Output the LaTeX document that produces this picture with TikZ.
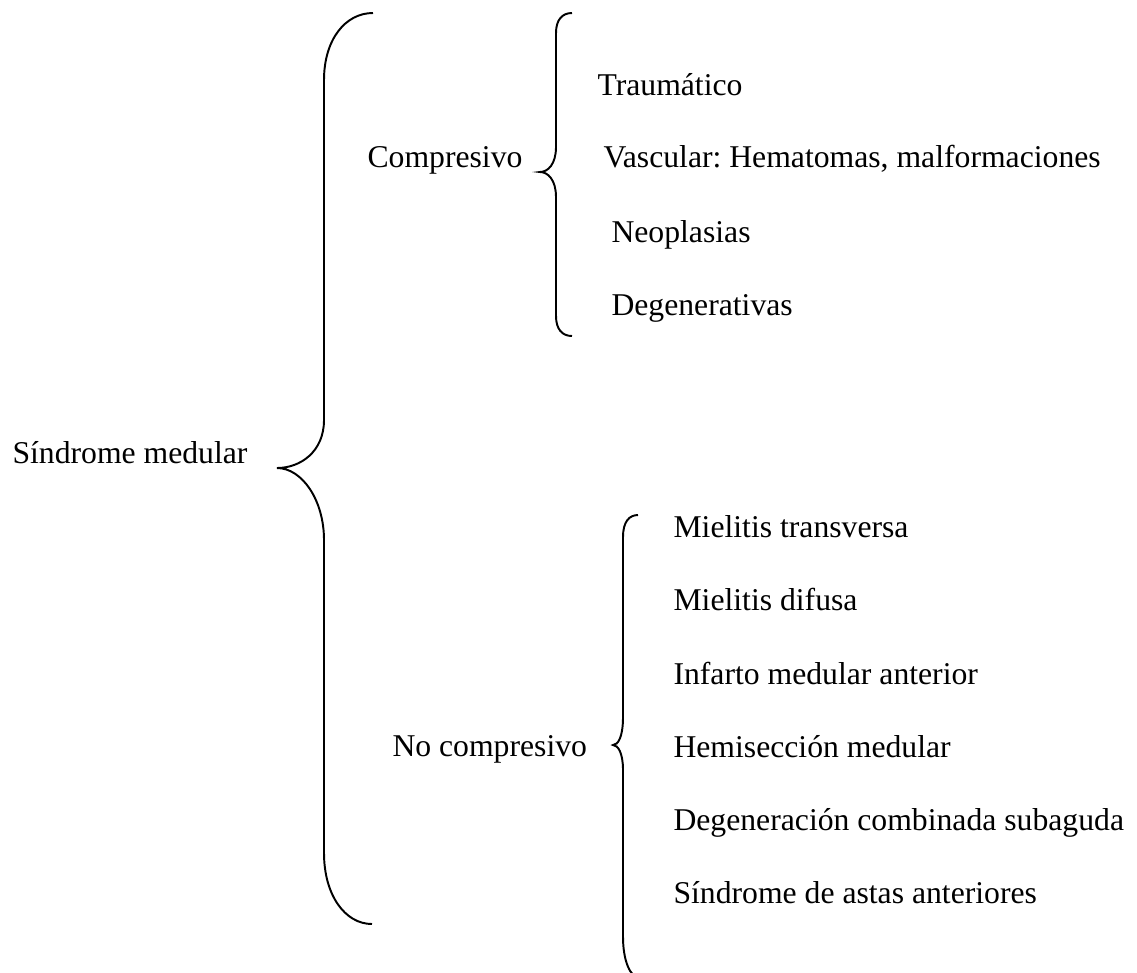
\documentclass[tikz,border=0pt]{standalone}
\usepackage{fontspec}
\setmainfont{Liberation Serif}
\frenchspacing
\begin{document}
\begin{tikzpicture}[x=0.385pt,y=-0.385pt]
		\tikzstyle{every node}+=[inner sep=0pt, anchor=base west, font=\fontsize{12.2}{14}\selectfont]
		\tikzstyle{brace}=[black, line width=0.75pt]
		\clip (0,0) rectangle (1137,972);
		% first level
		\node (sindrome) at (12,463) {Síndrome medular};
		% second level
		\node (comp) at (367,167) {Compresivo};
		\node (nocomp) at (392,756) {No compresivo};
		% compresivo
		\node (trauma) at (597,95) {Traumático};
		\node (vascular) at (603,167) {Vascular: Hematomas, malformaciones};
		\node (neo) at (611,242) {Neoplasias};
		\node (degen) at (611,315) {Degenerativas};
		% no compresivo
		\node (transv) at (673,537) {Mielitis transversa};
		\node (difusa) at (673,610) {Mielitis difusa};
		\node (infarto) at (673,684) {Infarto medular anterior};
		\node (hemi) at (673,757) {Hemisección medular};
		\node (subag) at (673,830) {Degeneración combinada subaguda};
		\node (astas) at (673,903) {Síndrome de astas anteriores};
		% brace ends and tips
		\coordinate (mainTop) at (373,13);
		\coordinate (mainTip) at (277,468);
		\coordinate (mainBot) at (372,924);
		\coordinate (compTop) at (572,13);
		\coordinate (compTip) at (540,172);
		\coordinate (compBot) at (572,336);
		\coordinate (nocTop) at (638,515);
		\coordinate (nocTip) at (613,745);
		\coordinate (nocBot) at (640,978);
		% braces
		\draw [brace] (mainTop) .. controls (345,13) and (324,40) .. (324,80) -- (324,420)
			.. controls (324,452) and (300,468) .. (mainTip)
			.. controls (302,468) and (324,500) .. (324,540) -- (324,853)
			.. controls (324,895) and (345,924) .. (mainBot);
		\draw [brace] (compTop) .. controls (562,13) and (556,20) .. (556,33) -- (556,147)
			.. controls (556,164) and (548,172) .. (compTip)
			.. controls (548,172) and (556,180) .. (556,197) -- (556,316)
			.. controls (556,329) and (562,336) .. (compBot);
		\draw [brace] (nocTop) .. controls (629,515) and (623,522) .. (623,537) -- (623,717)
			.. controls (623,737) and (618,745) .. (nocTip)
			.. controls (618,745) and (623,753) .. (623,770) -- (623,937)
			.. controls (623,960) and (630,978) .. (nocBot);
\end{tikzpicture}
\end{document}
